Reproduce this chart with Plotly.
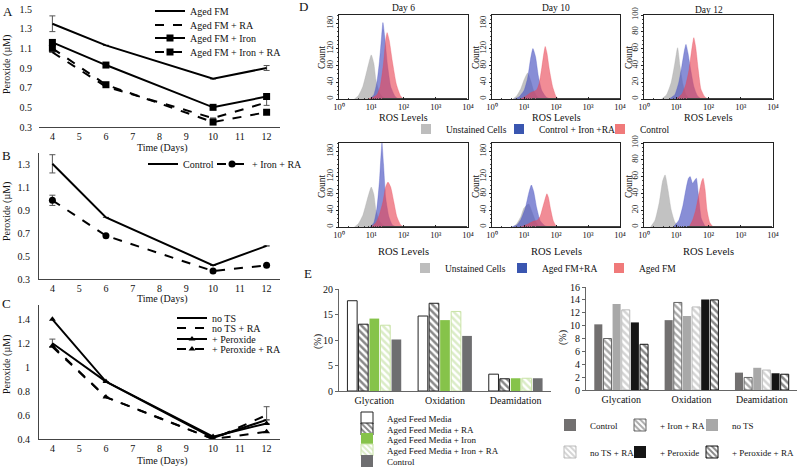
import plotly.graph_objects as go

W, H = 800, 468
FONT = "Liberation Serif"

# ---------------- data: panels A-C (peroxide vs time) ----------------
days = [4, 6, 10, 12]
day_ticks = [4, 5, 6, 7, 8, 9, 10, 11, 12]

a_aged_fm = [1.35, 1.13, 0.79, 0.90]
a_aged_fm_ra = [1.06, 0.71, 0.39, 0.55]
a_aged_fm_iron = [1.16, 0.93, 0.50, 0.61]
a_aged_fm_iron_ra = [1.10, 0.73, 0.35, 0.45]
a_err_aged_fm = [0.08, None, None, 0.025]
a_err_aged_fm_ra = [None, None, None, 0.03]

b_control = [1.31, 0.84, 0.42, 0.59]
b_iron_ra = [0.99, 0.68, 0.37, 0.42]
b_err_control = [0.08, None, None, None]
b_err_iron_ra = [0.045, None, None, None]

c_no_ts = [1.20, 0.88, 0.41, 0.56]
c_no_ts_ra = [1.17, 0.75, 0.40, 0.60]
c_peroxide = [1.40, 0.88, 0.42, 0.53]
c_peroxide_ra = [1.18, 0.75, 0.40, 0.46]
c_err_no_ts = [0.035, None, None, None]
c_err_no_ts_ra = [None, None, None, 0.07]

# ---------------- data: panel D (ROS histograms) ----------------
# top row (Control / Control + Iron + RA)
t6_unst_x = [3, 4, 5.5, 7.5, 10, 12, 14, 18, 23, 30]
t6_unst_y = [0, 8, 30, 70, 105, 85, 45, 15, 4, 0]
t6_blue_x = [9, 12, 15, 18, 21, 23, 26, 32, 40, 55, 70]
t6_blue_y = [0, 10, 40, 90, 150, 182, 150, 80, 30, 6, 0]
t6_red_x = [8, 12, 15, 19, 24, 28, 31, 36, 45, 60, 80, 100]
t6_red_y = [0, 5, 10, 30, 85, 140, 158, 140, 90, 35, 8, 0]

t10_unst_x = [4.5, 6, 8, 10, 13, 16, 20, 26, 32]
t10_unst_y = [0, 8, 25, 45, 62, 45, 20, 5, 0]
t10_blue_x = [5, 7, 10, 13, 16, 19, 23, 28, 36, 50, 70]
t10_blue_y = [0, 5, 20, 50, 95, 120, 100, 55, 20, 4, 0]
t10_red_x = [8, 12, 16, 20, 25, 30, 36, 42, 46, 52, 62, 78, 100, 120]
t10_red_y = [0, 8, 15, 18, 22, 38, 75, 110, 125, 110, 70, 30, 6, 0]

t12_unst_x = [3.5, 5, 7, 9, 11, 13, 16, 20, 26]
t12_unst_y = [0, 5, 20, 42, 61, 40, 18, 5, 0]
t12_blue_x = [6, 9, 12, 15, 18, 20, 23, 28, 35, 45, 60]
t12_blue_y = [0, 5, 20, 40, 58, 65, 55, 35, 15, 4, 0]
t12_red_x = [10, 15, 20, 25, 30, 35, 40, 48, 58, 75, 95]
t12_red_y = [0, 6, 18, 35, 58, 73, 62, 35, 12, 3, 0]

# bottom row (Aged FM / Aged FM + RA)
b6_unst_x = [3, 4, 5.5, 7.5, 10, 12, 14, 18, 23, 30]
b6_unst_y = [0, 8, 28, 65, 95, 78, 40, 14, 4, 0]
b6_blue_x = [9, 12, 15, 18, 20, 21.5, 24, 28, 35, 45, 60]
b6_blue_y = [0, 10, 45, 110, 170, 200, 150, 70, 25, 5, 0]
b6_red_x = [10, 14, 18, 23, 28, 33, 40, 50, 62, 80, 100]
b6_red_y = [0, 10, 30, 60, 95, 107, 95, 60, 25, 6, 0]

b10_unst_x = [4.5, 6, 8, 10, 14, 18, 24, 30]
b10_unst_y = [0, 8, 25, 45, 55, 35, 10, 0]
b10_blue_x = [4, 6, 8, 11, 14, 17, 20, 25, 32, 45, 60]
b10_blue_y = [0, 5, 18, 45, 80, 100, 85, 45, 15, 3, 0]
b10_red_x = [8, 14, 20, 26, 32, 38, 45, 52, 58, 68, 82, 100, 120]
b10_red_y = [0, 8, 14, 16, 25, 45, 65, 79, 70, 42, 15, 3, 0]

b12_unst_x = [1.6, 2.2, 3, 3.8, 4.5, 5.5, 7, 9, 12]
b12_unst_y = [0, 8, 30, 55, 62, 45, 20, 6, 0]
b12_blue_x = [8, 12, 16, 20, 24, 27, 32, 38, 42, 48, 60, 80]
b12_blue_y = [0, 8, 25, 45, 58, 60, 52, 56, 58, 40, 10, 0]
b12_red_x = [25, 32, 40, 48, 56, 62, 68, 78, 90, 110, 140]
b12_red_y = [0, 8, 20, 35, 48, 55, 58, 45, 20, 5, 0]

ros_tickvals = [1, 10, 100, 1000, 10000]
ros_ticktext = ["10⁰", "10¹", "10²", "10³", "10⁴"]
count_ticks_big = [0, 40, 80, 120, 180]
count_ticks_small = [0, 20, 40, 60, 80, 100]

# ---------------- data: panel E (modifications, %) ----------------
mods = ["Glycation", "Oxidation", "Deamidation"]
e_aged = [17.7, 14.7, 3.3]
e_aged_ra = [13.1, 17.2, 2.4]
e_aged_iron = [14.2, 13.9, 2.5]
e_aged_iron_ra = [12.9, 15.6, 2.5]
e_control_l = [10.1, 10.8, 2.5]

e_control = [10.2, 10.85, 2.7]
e_iron_ra = [8.0, 13.6, 1.95]
e_no_ts = [13.35, 11.5, 3.45]
e_no_ts_ra = [12.45, 12.9, 3.1]
e_peroxide = [10.5, 14.05, 2.6]
e_peroxide_ra = [7.1, 14.0, 2.45]


# ---------------- helpers ----------------
def fx(p):
    return p / W


def fy(p):
    return 1 - p / H


fig = go.Figure()
layout = {}
annotations = []
legend_count = [0]


def new_legend(x_sym_left, y_center, size=10):
    legend_count[0] += 1
    key = "legend" if legend_count[0] == 1 else "legend%d" % legend_count[0]
    layout[key] = dict(
        x=fx(x_sym_left), y=fy(y_center), xanchor="left", yanchor="middle",
        bgcolor="rgba(0,0,0,0)", borderwidth=0,
        font=dict(family=FONT, size=size, color="#111"),
    )
    return key


def ann(text, x, y, size=10, angle=0, xanchor="center"):
    annotations.append(dict(
        text=text, x=fx(x), y=fy(y), xref="paper", yref="paper", showarrow=False,
        font=dict(family=FONT, size=size, color="#111"), textangle=angle,
        xanchor=xanchor, yanchor="middle", borderpad=0))


def ax_name(i):
    return "" if i == 1 else str(i)


# ---------------- panels A, B, C ----------------
line_panels = [
    (1, 9, 127, [0.3, 1.5], 0.3, False),
    (2, 153, 279, [0.3, 1.405], 0.3, True),
    (3, 305, 439, [0.4, 1.52], 0.4, True),
]
for idx, yt, yb, rng, t0, yline in line_panels:
    n = ax_name(idx)
    layout["xaxis" + n] = dict(
        domain=[fx(39), fx(280)], range=[3.5, 12.5], anchor="y" + n,
        tickvals=day_ticks, showline=True, linecolor="#444", linewidth=1,
        ticks="", showgrid=False, zeroline=False,
        tickfont=dict(family=FONT, size=10, color="#111"))
    layout["yaxis" + n] = dict(
        domain=[fy(yb), fy(yt)], range=rng, anchor="x" + n, tick0=t0, dtick=0.2,
        showline=yline, linecolor="#444", linewidth=1, ticks="", showgrid=False,
        zeroline=False, ticklabelstandoff=6,
        tickfont=dict(family=FONT, size=10, color="#111"))


def line_trace(y, name, idx, dash, symbol, err, legend, msize=7):
    n = ax_name(idx)
    tr = dict(x=days, y=y, name=name, xaxis="x" + n, yaxis="y" + n,
              mode="lines+markers" if symbol else "lines",
              line=dict(color="black", width=2, dash=dash), legend=legend)
    if symbol:
        tr["marker"] = dict(symbol=symbol, size=msize, color="black")
    if err is not None:
        tr["error_y"] = dict(type="data", array=err, color="#555", thickness=1, width=3)
    return go.Scatter(**tr)


fig.add_trace(line_trace(a_aged_fm, "Aged FM", 1, "solid", None, a_err_aged_fm, new_legend(150, 11)))
fig.add_trace(line_trace(a_aged_fm_ra, "Aged FM + RA", 1, "dash", None, a_err_aged_fm_ra, new_legend(150, 25)))
fig.add_trace(line_trace(a_aged_fm_iron, "Aged FM + Iron", 1, "solid", "square", None, new_legend(150, 38)))
fig.add_trace(line_trace(a_aged_fm_iron_ra, "Aged FM + Iron + RA", 1, "dash", "square", None, new_legend(150, 52)))

fig.add_trace(line_trace(b_control, "Control", 2, "solid", None, b_err_control, new_legend(143, 164)))
fig.add_trace(line_trace(b_iron_ra, "+ Iron + RA", 2, "dash", "circle", b_err_iron_ra, new_legend(212, 164)))

fig.add_trace(line_trace(c_no_ts, "no TS", 3, "solid", None, c_err_no_ts, new_legend(172, 318)))
fig.add_trace(line_trace(c_no_ts_ra, "no TS + RA", 3, "dash", None, c_err_no_ts_ra, new_legend(172, 328)))
fig.add_trace(line_trace(c_peroxide, "+ Peroxide", 3, "solid", "triangle-up", None, new_legend(172, 339), 6))
fig.add_trace(line_trace(c_peroxide_ra, "+ Peroxide + RA", 3, "dash", "triangle-up", None, new_legend(172, 349), 6))

# ---------------- panel D ----------------
GRAY = "rgba(170,170,170,0.72)"
BLUE = "rgba(80,88,195,0.68)"
RED = "rgba(232,70,85,0.62)"
cols = [(339, 468), (492, 620), (644, 773)]
rows = [(15, 99), (143, 227)]
hist_sets = [
    [(t6_unst_x, t6_unst_y), (t6_blue_x, t6_blue_y), (t6_red_x, t6_red_y)],
    [(t10_unst_x, t10_unst_y), (t10_blue_x, t10_blue_y), (t10_red_x, t10_red_y)],
    [(t12_unst_x, t12_unst_y), (t12_blue_x, t12_blue_y), (t12_red_x, t12_red_y)],
    [(b6_unst_x, b6_unst_y), (b6_blue_x, b6_blue_y), (b6_red_x, b6_red_y)],
    [(b10_unst_x, b10_unst_y), (b10_blue_x, b10_blue_y), (b10_red_x, b10_red_y)],
    [(b12_unst_x, b12_unst_y), (b12_blue_x, b12_blue_y), (b12_red_x, b12_red_y)],
]
for k in range(6):
    r, c = divmod(k, 3)
    idx = 4 + k
    n = ax_name(idx)
    x0, x1 = cols[c]
    yt, yb = rows[r]
    small = (c == 2)
    layout["xaxis" + n] = dict(
        domain=[fx(x0), fx(x1)], type="log", range=[0, 4], anchor="y" + n,
        tickvals=ros_tickvals, ticktext=ros_ticktext, showline=True, mirror=True,
        linecolor="#222", linewidth=1, ticks="inside", ticklen=2, tickcolor="#222",
        minor=dict(ticks="inside", ticklen=1, tickcolor="#444"),
        showgrid=False, zeroline=False, tickfont=dict(family=FONT, size=8.5, color="#111"))
    layout["yaxis" + n] = dict(
        domain=[fy(yb), fy(yt)], range=[0, 100] if small else [0, 200], anchor="x" + n,
        tickvals=count_ticks_small if small else count_ticks_big, tickangle=-90,
        showline=True, mirror=True, linecolor="#222", linewidth=1,
        ticks="outside", ticklen=2, tickcolor="#222",
        minor=dict(ticks="outside", ticklen=1, tickcolor="#444", dtick=5 if small else 10),
        showgrid=False, zeroline=False, tickfont=dict(family=FONT, size=8.5, color="#111"))
    for (hx, hy), col in zip(hist_sets[k], [GRAY, BLUE, RED]):
        fig.add_trace(go.Scatter(
            x=hx, y=hy, xaxis="x" + n, yaxis="y" + n, mode="lines", fill="tozeroy",
            fillcolor=col, line=dict(color=col, width=0.5, shape="spline", smoothing=0.5),
            showlegend=False, hoverinfo="skip"))

d_keys = [
    ("Unstained Cells", "#bdbdbd", 406, 129, 4),
    ("Control + Iron +RA", "#3a56b0", 499, 129, 4),
    ("Control", "#f07a7a", 600, 129, 4),
    ("Unstained Cells", "#bdbdbd", 405, 268, 7),
    ("Aged FM+RA", "#3a56b0", 502, 268, 7),
    ("Aged FM", "#f07a7a", 599, 268, 7),
]
for name, col, lx, ly, idx in d_keys:
    n = ax_name(idx)
    fig.add_trace(go.Scatter(
        x=[None], y=[None], xaxis="x" + n, yaxis="y" + n, mode="markers", name=name,
        marker=dict(symbol="square", size=10, color=col), legend=new_legend(lx, ly, 9.5)))

# ---------------- panel E ----------------
layout["xaxis10"] = dict(domain=[fx(339), fx(551)], anchor="y10", showline=True,
                         linecolor="#666", ticks="", showgrid=False,
                         tickfont=dict(family=FONT, size=10, color="#111"))
layout["yaxis10"] = dict(domain=[fy(391), fy(289)], range=[0, 20], dtick=5, anchor="x10",
                         showline=True, linecolor="#666", ticks="outside", ticklen=3,
                         tickcolor="#666", showgrid=False, zeroline=False,
                         tickfont=dict(family=FONT, size=10, color="#111"))
layout["xaxis11"] = dict(domain=[fx(586), fx(797)], anchor="y11", showline=True,
                         linecolor="#666", ticks="", showgrid=False,
                         tickfont=dict(family=FONT, size=10, color="#111"))
layout["yaxis11"] = dict(domain=[fy(390), fy(287)], range=[0, 16], dtick=2, anchor="x11",
                         showline=True, linecolor="#666", ticks="outside", ticklen=3,
                         tickcolor="#666", showgrid=False, zeroline=False,
                         tickfont=dict(family=FONT, size=10, color="#111"))


def bar(y, name, idx, color, line_color, pattern, legend):
    n = ax_name(idx)
    marker = dict(color=color, line=dict(color=line_color, width=1 if line_color else 0))
    if pattern:
        marker["pattern"] = pattern
    return go.Bar(x=mods, y=y, name=name, xaxis="x" + n, yaxis="y" + n,
                  marker=marker, legend=legend, offsetgroup=name + str(idx))


def stripes(fg, bg="white", solidity=0.5, size=5):
    return dict(shape="\\", fgcolor=fg, bgcolor=bg, solidity=solidity, size=size)


fig.add_trace(bar(e_aged, "Aged Feed Media", 10, "white", "#222", None, new_legend(347, 418, 9)))
fig.add_trace(bar(e_aged_ra, "Aged Feed Media + RA", 10, "white", "#222", stripes("#111"), new_legend(347, 429, 9)))
fig.add_trace(bar(e_aged_iron, "Aged Feed Media + Iron", 10, "#86c34a", None, None, new_legend(347, 439, 9)))
fig.add_trace(bar(e_aged_iron_ra, "Aged Feed Media + Iron + RA", 10, "white", "#c9e3a6", stripes("#b7d98f"), new_legend(347, 450, 9)))
fig.add_trace(bar(e_control_l, "Control", 10, "#6e6e70", None, None, new_legend(347, 461, 9)))

fig.add_trace(bar(e_control, "Control", 11, "#727070", None, None, new_legend(550, 425, 9)))
fig.add_trace(bar(e_iron_ra, "+ Iron + RA", 11, "white", "#666", stripes("#555"), new_legend(620, 425, 9)))
fig.add_trace(bar(e_no_ts, "no TS", 11, "#a8a8a8", None, None, new_legend(692, 425, 9)))
fig.add_trace(bar(e_no_ts_ra, "no TS + RA", 11, "white", "#bbb", stripes("#a9a9a9"), new_legend(550, 452, 9)))
fig.add_trace(bar(e_peroxide, "+ Peroxide", 11, "#151515", None, None, new_legend(620, 452, 9)))
fig.add_trace(bar(e_peroxide_ra, "+ Peroxide + RA", 11, "white", "#111", stripes("#111"), new_legend(692, 452, 9)))

# ---------------- text annotations ----------------
ann("A", 8, 11, 13)
ann("B", 6, 156, 13)
ann("C", 6, 303, 13)
ann("D", 303, 7, 13)
ann("E", 308, 273, 13)
for yc in (65, 212, 365):
    ann("Peroxide (µM)", 7, yc, 10, -90)
for yc in (148, 299, 461):
    ann("Time (Days)", 162, yc, 10)
for (x0, x1), t, yy in zip(cols, ["Day 6", "Day 10", "Day 12"], [8, 8, 10]):
    ann(t, (x0 + x1) / 2, yy, 9.5)
    ann("ROS Levels", (x0 + x1) / 2, 117.5, 10)
    ann("ROS Levels", (x0 + x1) / 2, 251, 10.5)
for xc in (322, 476, 629):
    ann("Count", xc, 57, 9.5, -90)
    ann("Count", xc, 186, 9.5, -90)
ann("(%)", 318, 342, 10, -90)
ann("(%)", 563, 338, 10, -90)

fig.update_layout(
    width=W, height=H, margin=dict(l=0, r=0, t=0, b=0, autoexpand=False),
    paper_bgcolor="white", plot_bgcolor="white",
    font=dict(family=FONT, size=10, color="#111"),
    barmode="group", bargap=0.22, bargroupgap=0.12,
    annotations=annotations, **layout)

# place the 800x468 figure flush with the page corner (no default body margin)
page_fix = ("document.body.style.margin='0';document.body.style.overflow='hidden';"
            "var g=document.getElementById('{plot_id}');g.style.position='absolute';"
            "g.style.left='0px';g.style.top='0px';")
fig.write_html("out.html", post_script=page_fix, config={"displayModeBar": False})
